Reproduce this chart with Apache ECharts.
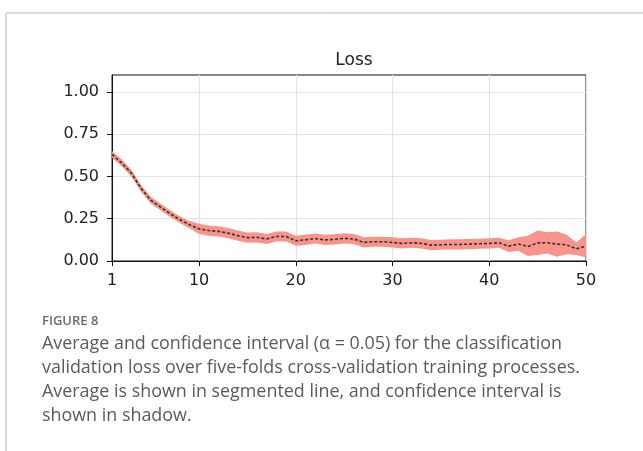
<!DOCTYPE html>
<html>
<head>
<meta charset="utf-8">
<script src="https://cdn.jsdelivr.net/npm/echarts@6/dist/echarts.min.js"></script>
<style>
  html, body { margin: 0; padding: 0; background: #fff; }
  #main { width: 643px; height: 451px; }
</style>
</head>
<body>
<div id="main"></div>
<script>
// epochs 1..50
var epochs = [1, 2, 3, 4, 5, 6, 7, 8, 9, 10, 11, 12, 13, 14, 15, 16, 17, 18, 19, 20,
  21, 22, 23, 24, 25, 26, 27, 28, 29, 30, 31, 32, 33, 34, 35, 36, 37, 38, 39, 40,
  41, 42, 43, 44, 45, 46, 47, 48, 49, 50];

// average validation loss
var meanLoss = [0.63, 0.58, 0.52, 0.43, 0.36, 0.32, 0.28, 0.245, 0.215, 0.19,
  0.18, 0.175, 0.165, 0.15, 0.138, 0.14, 0.13, 0.145, 0.145, 0.12,
  0.125, 0.133, 0.125, 0.128, 0.134, 0.13, 0.11, 0.114, 0.114, 0.11,
  0.104, 0.108, 0.104, 0.094, 0.096, 0.098, 0.098, 0.10, 0.102, 0.104,
  0.108, 0.088, 0.10, 0.086, 0.107, 0.108, 0.10, 0.096, 0.072, 0.088];

// confidence interval bounds
var upperCI = [0.65, 0.6, 0.54, 0.45, 0.38, 0.34, 0.30, 0.265, 0.237, 0.22,
  0.21, 0.205, 0.195, 0.18, 0.168, 0.17, 0.16, 0.175, 0.175, 0.15,
  0.155, 0.163, 0.155, 0.158, 0.164, 0.16, 0.14, 0.144, 0.144, 0.14,
  0.134, 0.138, 0.134, 0.124, 0.126, 0.128, 0.128, 0.13, 0.132, 0.134,
  0.138, 0.123, 0.14, 0.15, 0.18, 0.17, 0.175, 0.155, 0.11, 0.16];
var lowerCI = [0.61, 0.56, 0.50, 0.41, 0.34, 0.30, 0.26, 0.225, 0.193, 0.16,
  0.15, 0.145, 0.135, 0.12, 0.108, 0.11, 0.10, 0.115, 0.115, 0.09,
  0.095, 0.103, 0.095, 0.098, 0.104, 0.10, 0.08, 0.084, 0.084, 0.08,
  0.074, 0.078, 0.074, 0.064, 0.066, 0.068, 0.068, 0.07, 0.072, 0.074,
  0.078, 0.053, 0.06, 0.03, 0.035, 0.045, 0.025, 0.04, 0.035, 0.02];

var yTicks = [0, 0.25, 0.5, 0.75, 1.0];

var captionLines = [
  "Average and confidence interval (\u03B1 = 0.05) for the classification",
  "validation loss over five-folds cross-validation training processes.",
  "Average is shown in segmented line, and confidence interval is",
  "shown in shadow."
];

var bandWidth = upperCI.map(function (u, i) { return +(u - lowerCI[i]).toFixed(4); });

function isXTick(i, v) {
  var n = Number(v);
  return n === 1 || n % 10 === 0;
}

var myChart = echarts.init(document.getElementById("main"));

var graphics = [
  { type: "line", shape: { x1: 6, y1: 13, x2: 643, y2: 13 }, style: { stroke: "#b5b5b5", lineWidth: 1 } },
  { type: "line", shape: { x1: 6, y1: 13, x2: 6, y2: 451 }, style: { stroke: "#b5b5b5", lineWidth: 1 } },
  { type: "text", left: 42, top: 315, style: { text: "FIGURE 8", font: "600 13px 'Open Sans'", fill: "#6a6a6a" } }
];
captionLines.forEach(function (t, i) {
  graphics.push({
    type: "text", left: 42, top: 335 + i * 24,
    style: { text: t, font: "17.9px 'Open Sans'", fill: "#5a5a5a" }
  });
});

myChart.setOption({
  animation: false,
  title: {
    text: "Loss",
    left: 349,
    top: 47,
    textAlign: "center",
    textStyle: { fontFamily: "DejaVu Sans", fontSize: 17, fontWeight: "normal", color: "#222" }
  },
  grid: {
    left: 112, right: 57, top: 75, bottom: 190,
    show: true, borderColor: "#111", borderWidth: 1
  },
  xAxis: {
    type: "category",
    data: epochs,
    boundaryGap: false,
    axisLine: { lineStyle: { color: "#111", width: 1 } },
    axisTick: { show: true, interval: isXTick, length: 5, lineStyle: { color: "#111" } },
    axisLabel: {
      interval: isXTick, margin: 12,
      fontFamily: "DejaVu Sans", fontSize: 16, color: "#222"
    },
    splitLine: { show: true, interval: isXTick, lineStyle: { color: "#e3e3e3", width: 1.2 } }
  },
  yAxis: {
    type: "value",
    min: 0, max: 1.1, interval: 0.25,
    axisLine: { show: true, lineStyle: { color: "#111", width: 1 } },
    axisTick: { show: true, customValues: yTicks, length: 5, lineStyle: { color: "#111" } },
    axisLabel: {
      customValues: yTicks, margin: 13,
      fontFamily: "DejaVu Sans", fontSize: 16, color: "#222",
      formatter: function (v) { return v.toFixed(2); }
    },
    splitLine: { show: true, lineStyle: { color: "#e3e3e3", width: 1.2 } }
  },
  graphic: graphics,
  series: [
    {
      name: "lower",
      type: "line",
      data: lowerCI,
      stack: "ci",
      symbol: "none",
      lineStyle: { opacity: 0 },
      silent: true
    },
    {
      name: "band",
      type: "line",
      data: bandWidth,
      stack: "ci",
      symbol: "none",
      lineStyle: { opacity: 0 },
      areaStyle: { color: "#f89489", opacity: 1 },
      silent: true
    },
    {
      name: "mean",
      type: "line",
      data: meanLoss,
      symbol: "none",
      lineStyle: { color: "#333", width: 1.6, type: [3, 2] },
      z: 5
    }
  ]
});
</script>
</body>
</html>
